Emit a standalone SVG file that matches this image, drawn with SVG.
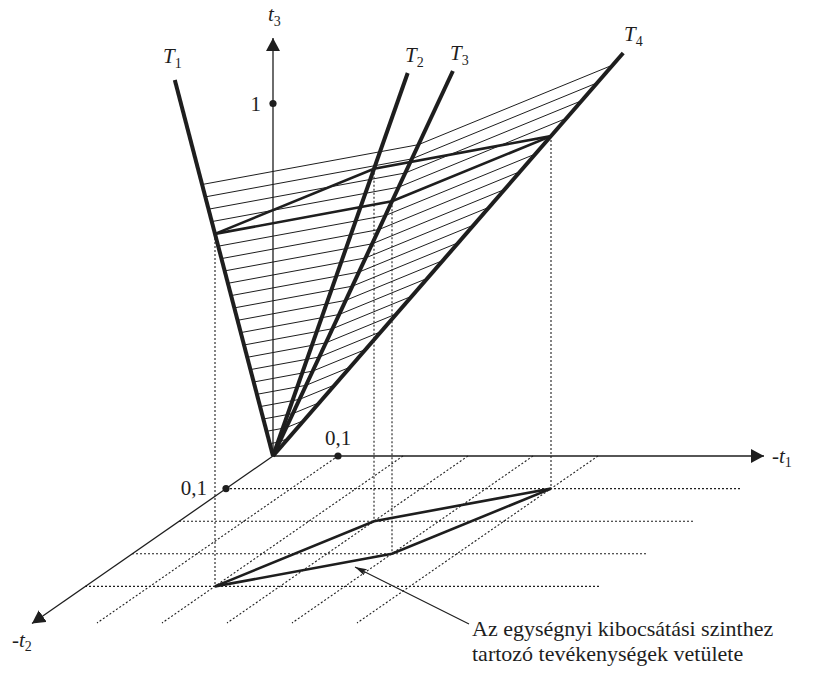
<svg xmlns="http://www.w3.org/2000/svg" width="816" height="683" viewBox="0 0 816 683">
<style>
  .bg{fill:#ffffff}
  .axis{stroke:#1e1e1e;stroke-width:1.3;fill:none}
  .ray{stroke:#1e1e1e;stroke-width:4;fill:none;stroke-linecap:butt}
  .iso{stroke:#1e1e1e;stroke-width:2.6;fill:none;stroke-linejoin:miter}
  .hatch{stroke:#1e1e1e;stroke-width:1;fill:none}
  .dot{stroke:#1e1e1e;stroke-width:1.1;stroke-dasharray:2 2;fill:none}
  .pt{fill:#1e1e1e}
  .lbl{font-family:"Liberation Serif","Times New Roman",serif;font-size:21px;fill:#1e1e1e}
  .it{font-style:italic}
  .sub{font-size:14px;font-style:normal}
  .ann{stroke:#1e1e1e;stroke-width:1.2;fill:none}
  .note{font-size:22px}
</style>
<defs>
  <marker id="axhead" viewBox="0 0 13 14" refX="13" refY="7" markerWidth="13" markerHeight="14" markerUnits="userSpaceOnUse" orient="auto">
    <path d="M0,0 L13,7 L0,14 Z" fill="#1e1e1e"/>
  </marker>
  <marker id="annhead" viewBox="0 0 12 7" refX="12" refY="3.5" markerWidth="12" markerHeight="7" markerUnits="userSpaceOnUse" orient="auto">
    <path d="M0,0 L12,3.5 L0,7 L2.5,3.5 Z" fill="#1e1e1e"/>
  </marker>
</defs>
<rect class="bg" x="0" y="0" width="816" height="683"/>

<g id="grid-dotted">
  <path class="dot" d="M215,233.9 V586.4 M374,168.7 V521.2 M392,201.3 V553.8 M551,136.1 V488.6"/>
  <path class="dot" d="M226,488.6 H740 M179,521.2 H693 M132,553.8 H646 M85,586.4 H599"/>
  <path class="dot" d="M338,456 L97,623 M403,456 L162,623 M468,456 L227,623 M533,456 L292,623 M598,456 L357,623"/>
</g>

<g id="hatching">
  <path class="hatch" d="M269.8,443.7 L279.6,441.9 L288.4,438.2
  M266.6,431.3 L286.2,427.7 L303.9,420.5
  M263.3,419.0 L292.8,413.6 L319.3,402.7
  M260.1,406.6 L299.4,399.4 L334.8,384.9
  M256.9,394.3 L306.1,385.3 L350.2,367.1
  M253.7,382.0 L312.7,371.1 L365.7,349.4
  M250.4,369.6 L319.3,357.0 L381.1,331.6
  M247.2,357.3 L325.9,342.8 L396.6,313.8
  M244.0,345.0 L332.5,328.7 L412.0,296.1
  M240.8,332.6 L339.1,314.5 L427.4,278.3
  M237.6,320.3 L345.7,300.4 L442.9,260.5
  M234.3,307.9 L352.3,286.2 L458.3,242.7
  M231.1,295.6 L358.9,272.1 L473.8,225.0
  M227.9,283.3 L365.6,257.9 L489.2,207.2
  M224.7,270.9 L372.2,243.8 L504.7,189.4
  M221.4,258.6 L378.8,229.6 L520.1,171.6
  M218.2,246.2 L385.4,215.5 L535.6,153.9
  M215.0,233.9 L392.0,201.3 L551.0,136.1
  M211.8,221.6 L398.6,187.2 L566.4,118.3
  M208.6,209.2 L405.2,173.0 L581.9,100.6
  M205.3,196.9 L411.8,158.9 L597.3,82.8
  M202.1,184.5 L418.4,144.7 L612.8,65.0"/>
</g>

<g id="axes">
  <path class="axis" d="M273,456 L273,38" marker-end="url(#axhead)"/>
  <path class="axis" d="M273,456 L764,456" marker-end="url(#axhead)"/>
  <path class="axis" d="M273,456 L32,623.5" marker-end="url(#axhead)"/>
  <circle class="pt" cx="273" cy="103.5" r="3.6"/>
  <circle class="pt" cx="338" cy="456" r="3.6"/>
  <circle class="pt" cx="226" cy="488.6" r="3.6"/>
</g>

<g id="rays">
  <path id="T1" class="ray" d="M273,456 L174.8,80"/>
  <path id="T2" class="ray" d="M273,456 L407.7,73"/>
  <path id="T3" class="ray" d="M273,456 L452.9,71"/>
  <path id="T4" class="ray" d="M273,456 L623.2,53"/>
</g>

<g id="isoquant">
  <path class="iso" d="M215,233.9 L374,168.7 L551,136.1"/>
  <path class="iso" d="M215,233.9 L392,201.3 L551,136.1"/>
</g>

<g id="projection">
  <path class="iso" d="M215,586.4 L374,521.2 L551,488.6"/>
  <path class="iso" d="M215,586.4 L392,553.8 L551,488.6"/>
</g>

<g id="labels" class="lbl">
  <text x="268" y="21"><tspan class="it">t</tspan><tspan class="sub" dy="4.5">3</tspan></text>
  <text x="163" y="63"><tspan class="it">T</tspan><tspan class="sub" dy="5">1</tspan></text>
  <text x="405" y="62"><tspan class="it">T</tspan><tspan class="sub" dy="5">2</tspan></text>
  <text x="450" y="59.5"><tspan class="it">T</tspan><tspan class="sub" dy="5">3</tspan></text>
  <text x="624" y="41"><tspan class="it">T</tspan><tspan class="sub" dy="5">4</tspan></text>
  <text x="261" y="111" text-anchor="end">1</text>
  <text x="325" y="445">0,1</text>
  <text x="207" y="495" text-anchor="end">0,1</text>
  <text x="772" y="463">-<tspan class="it">t</tspan><tspan class="sub" dy="4">1</tspan></text>
  <text x="12" y="647">-<tspan class="it">t</tspan><tspan class="sub" dy="4">2</tspan></text>
</g>

<g id="annotation">
  <path class="ann" d="M469,624 L355,567" marker-end="url(#annhead)"/>
  <text class="lbl note" x="472" y="636">Az egységnyi kibocsátási szinthez</text>
  <text class="lbl note" x="472" y="661">tartozó tevékenységek vetülete</text>
</g>
</svg>
